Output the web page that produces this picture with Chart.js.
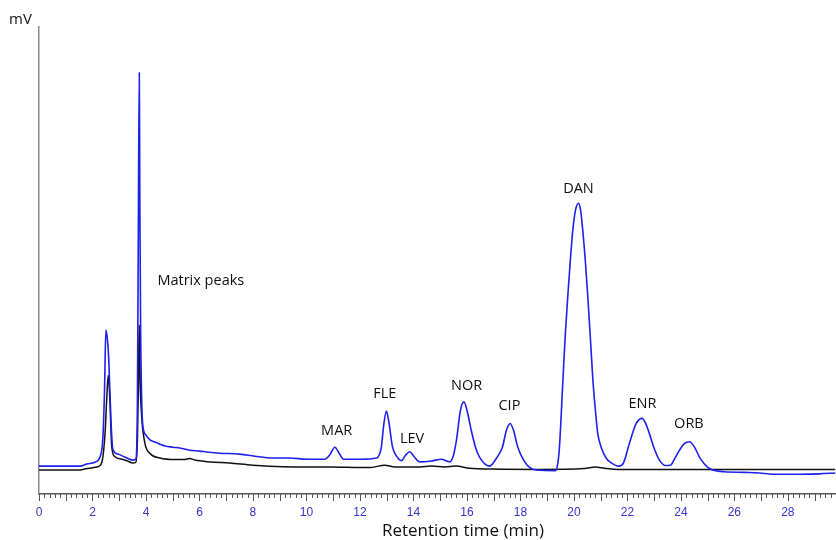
<!DOCTYPE html>
<html>
<head>
<meta charset="utf-8">
<title>Chromatogram</title>
<script src="https://cdn.jsdelivr.net/npm/chart.js@4.4.1/dist/chart.umd.min.js"></script>
<style>
  html, body { margin: 0; padding: 0; background: #fff; }
  #wrap { width: 836px; height: 540px; }
</style>
</head>
<body>
<div id="wrap"><canvas id="chart" width="836" height="540"></canvas></div>
<script>
// retention time (min) / detector signal (mV, arbitrary zero)
const sampleTimes = [
    0, 1.53, 1.79, 2.09, 2.28, 2.39, 2.45, 2.50, 2.56, 2.61,
    2.69, 2.76, 2.95, 3.21, 3.51, 3.62, 3.68, 3.72, 3.75, 3.77,
    3.80, 3.84, 3.88, 4.00, 4.15, 4.33, 4.52, 4.71, 5.01, 5.27,
    5.64, 6.01, 6.28, 6.76, 7.51, 8.07, 8.74, 9.38, 10.01, 10.68,
    10.87, 11.06, 11.24, 11.39, 11.99, 12.63, 12.80, 12.89, 12.99, 13.07,
    13.22, 13.37, 13.55, 13.71, 13.86, 14.01, 14.23, 14.68, 15.04, 15.35,
    15.50, 15.61, 15.76, 15.89, 16.00, 16.16, 16.32, 16.47, 16.85, 17.11,
    17.33, 17.48, 17.62, 17.74, 17.90, 18.12, 18.34, 18.60, 19.31, 19.40,
    19.46, 19.59, 19.68, 19.77, 19.87, 19.96, 20.06, 20.17, 20.25, 20.33,
    20.43, 20.52, 20.62, 20.71, 20.81, 20.89, 21.03, 21.21, 21.41, 21.67,
    21.85, 22.08, 22.33, 22.55, 22.68, 22.82, 23.01, 23.20, 23.42, 23.61,
    23.80, 23.95, 24.13, 24.32, 24.51, 24.69, 24.88, 25.07, 25.26, 25.63,
    26.37, 26.94, 27.42, 28.43, 29.17, 29.77
];
const sampleSignal = [
    1.0, 1.0, 1.7, 2.3, 4.0, 10.7, 26.3, 46.3, 43, 36.3,
    16.3, 6.7, 5.0, 4.0, 3.0, 3.3, 23, 89.7, 132, 89.7,
    46.3, 23, 14.7, 11.3, 9.7, 9.0, 8.3, 7.7, 7.3, 7.0,
    6.3, 6.0, 5.7, 5.3, 5.0, 4.3, 3.7, 3.7, 3.3, 3.3,
    4.7, 7.3, 5.0, 3.3, 3.3, 3.7, 7.3, 14.7, 19.3, 16.3,
    7.3, 4.3, 2.8, 4.7, 5.8, 4.3, 2.4, 2.7, 3.3, 2.4,
    4.7, 9.7, 19.7, 22.4, 19.7, 13, 7.3, 4, 1, 3.7,
    7.4, 13, 15.2, 13, 7.4, 3, 0.6, -0.3, -0.5, 2,
    7.4, 29.7, 45, 57.4, 70, 79.7, 86.3, 88.6, 86.3, 79.7,
    69, 57.4, 43, 29.7, 19, 12, 7, 3.6, 2, 1,
    2, 8.7, 15.2, 16.9, 15.3, 11.9, 6.7, 3, 1.2, 1.3,
    4, 6.3, 8.5, 9.1, 7.3, 4.1, 1.7, 0.2, -0.5, -0.9,
    -1.1, -1.3, -1.7, -1.7, -1.6, -1.3
];

// blank matrix run
const blankTimes = [
    0, 1.53, 1.79, 2.17, 2.35, 2.47, 2.53, 2.59, 2.65, 2.72,
    2.84, 3.10, 3.29, 3.51, 3.62, 3.68, 3.72, 3.75, 3.78, 3.84,
    3.96, 4.15, 4.52, 5.08, 5.45, 5.64, 5.83, 6.39, 7.13, 7.99,
    9.11, 10.87, 12.36, 12.93, 13.30, 14.23, 14.68, 15.17, 15.58, 16.10,
    16.95, 18.72, 20.40, 20.81, 21.14, 21.67, 29.77
];
const blankSignal = [
    -0.3, -0.3, 0.2, 0.7, 2.3, 12, 23, 31.3, 23, 7.4,
    4.1, 3.3, 2.8, 2, 2.3, 9.7, 29.7, 48, 29.7, 17.4,
    8.6, 5.2, 3.7, 3.2, 3.2, 3.5, 3, 2.4, 2, 1.3,
    0.8, 0.7, 0.5, 1.3, 0.7, 0.7, 1, 0.7, 1, 0.3,
    0, -0.1, 0.2, 0.7, 0.3, -0.1, -0.1
];

// peak labels (placed in data coordinates)
const peakNames = ["Matrix peaks", "MAR", "FLE", "LEV", "NOR", "CIP", "DAN", "ENR", "ORB"];
const peakLabelTimes = [6.05, 11.13, 12.93, 13.95, 15.99, 17.59, 20.17, 22.56, 24.3];
const peakLabelLevels = [62.8, 12.7, 25, 10, 27.7, 21, 93.3, 21.7, 15];

const timeMin = 0;
const timeMax = 29.8;
const signalMin = -8.3;
const signalMax = 147.3;
const axisTitle = "Retention time (min)";
const axisTitleAt = 15.85; // minutes, the title sits right of centre in the original

function toPoints(xs, ys) {
    return xs.map((x, i) => ({ x: x, y: ys[i] }));
}

const peakLabelPlugin = {
    id: "peakLabels",
    afterDraw(chart) {
        const ctx = chart.ctx;
        const xs = chart.scales.x;
        const ys = chart.scales.y;
        ctx.save();

        // short ticks every 0.2 min, longer ones on whole minutes
        ctx.strokeStyle = "#555";
        ctx.lineWidth = 1;
        xs.ticks.forEach((tk) => {
            const whole = Math.abs(tk.value - Math.round(tk.value)) < 1e-6;
            const px = Math.round(xs.getPixelForValue(tk.value)) + 0.5;
            ctx.beginPath();
            ctx.moveTo(px, ys.bottom);
            ctx.lineTo(px, ys.bottom + (whole ? 7 : 4));
            ctx.stroke();
        });

        ctx.font = '14.5px "Open Sans"';
        ctx.fillStyle = "#111";
        ctx.textAlign = "center";
        ctx.textBaseline = "middle";
        peakNames.forEach((name, i) => {
            ctx.fillText(name, xs.getPixelForValue(peakLabelTimes[i]), ys.getPixelForValue(peakLabelLevels[i]));
        });

        ctx.font = '17px "Open Sans"';
        ctx.fillText(axisTitle, xs.getPixelForValue(axisTitleAt), 531);

        ctx.font = '15px "Open Sans"';
        ctx.textAlign = "left";
        ctx.fillText("mV", 9, 20);
        ctx.restore();
    },
};

const chart = new Chart(document.getElementById("chart"), {
    type: "line",
    data: {
        datasets: [
            {
                label: "Sample",
                data: toPoints(sampleTimes, sampleSignal),
                borderColor: "#1f1fee",
                borderWidth: 1.6,
                pointRadius: 0,
                cubicInterpolationMode: "monotone",
            },
            {
                label: "Blank",
                data: toPoints(blankTimes, blankSignal),
                borderColor: "#111111",
                borderWidth: 1.5,
                pointRadius: 0,
                cubicInterpolationMode: "monotone",
            },
        ],
    },
    options: {
        responsive: false,
        animation: false,
        layout: { padding: { left: 39, top: 27, right: 0, bottom: 20.6 } },
        plugins: {
            legend: { display: false },
            tooltip: { enabled: false },
        },
        scales: {
            x: {
                type: "linear",
                min: timeMin,
                max: timeMax,
                border: { display: true, color: "#555", width: 1.5 },
                grid: {
                    display: true,
                    drawOnChartArea: false,
                    drawTicks: true,
                    tickLength: 11,
                    tickColor: "rgba(0,0,0,0)",
                },
                ticks: {
                    stepSize: 0.2,
                    autoSkip: false,
                    maxRotation: 0,
                    padding: 0,
                    color: "#3535cc",
                    font: { family: "Liberation Sans", size: 12 },
                    callback: (v) => {
                        const r = Math.round(v);
                        return Math.abs(v - r) < 1e-6 && r % 2 === 0 ? String(r) : "";
                    },
                },
            },
            y: {
                min: signalMin,
                max: signalMax,
                border: { display: true, color: "#8a8a8a", width: 1.5 },
                grid: { display: false, drawTicks: false },
                ticks: { display: false },
            },
        },
    },
    plugins: [peakLabelPlugin],
});
</script>
</body>
</html>
